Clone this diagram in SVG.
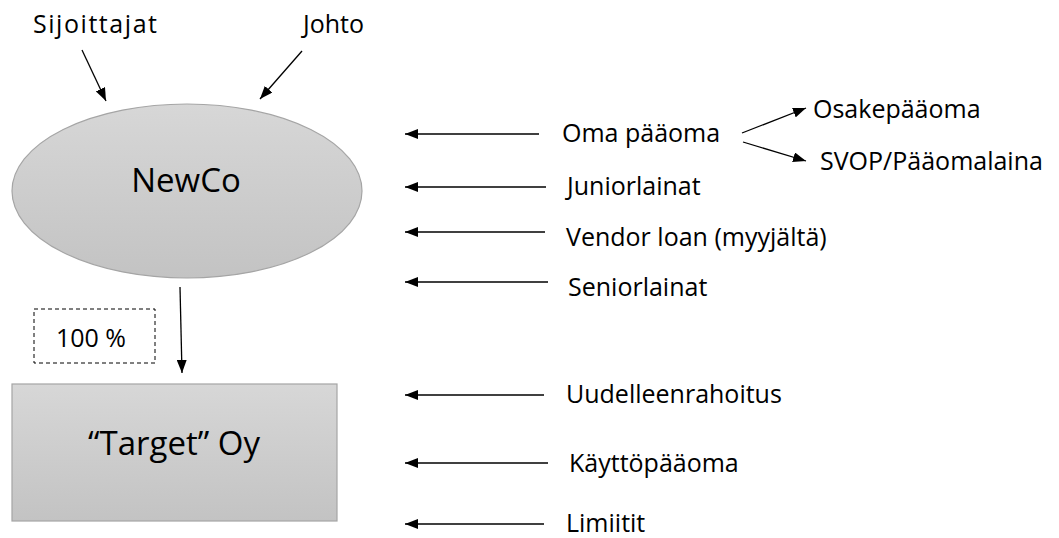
<svg xmlns="http://www.w3.org/2000/svg" width="1059" height="538" viewBox="0 0 1059 538">
<defs>
<linearGradient id="g" x1="0" y1="0" x2="0" y2="1">
<stop offset="0" stop-color="#d7d7d7"/>
<stop offset="1" stop-color="#c3c3c3"/>
</linearGradient>
<marker id="ah" viewBox="0 0 13 10" refX="13" refY="5" markerWidth="13" markerHeight="10" markerUnits="userSpaceOnUse" orient="auto">
<path d="M0,0 L13,5 L0,10 Z" fill="#000"/>
</marker>
</defs>
<style>
text{font-family:"Open Sans","Liberation Sans",sans-serif;fill:#000;}
.lbl{font-size:25px;}
.big{font-size:33px;}
.shape{fill:url(#g);stroke:#a5a5a5;stroke-width:1.2;}
.conn line{stroke:#000;stroke-width:1.3;marker-end:url(#ah);}
</style>
<g id="newco">
<ellipse class="shape" cx="187" cy="191" rx="175" ry="87"/>
<text class="big" x="186" y="192" text-anchor="middle">NewCo</text>
</g>
<g id="target">
<rect class="shape" x="12" y="384" width="325" height="137"/>
<text class="big" x="174" y="455" text-anchor="middle">“Target” Oy</text>
</g>
<g id="ownership">
<rect x="34" y="309" width="121" height="54" fill="none" stroke="#000" stroke-width="1" stroke-dasharray="4,3"/>
<text class="lbl" x="91" y="347" text-anchor="middle">100 %</text>
</g>
<g id="sijoittajat"><text class="lbl" x="33" y="33" textLength="124" lengthAdjust="spacing">Sijoittajat</text></g>
<g id="johto"><text class="lbl" x="303" y="33">Johto</text></g>
<g id="oma"><text class="lbl" x="562" y="142">Oma pääoma</text></g>
<g id="osake"><text class="lbl" x="813" y="118">Osakepääoma</text></g>
<g id="svop"><text class="lbl" x="820" y="170">SVOP/Pääomalaina</text></g>
<g id="junior"><text class="lbl" x="567" y="195">Juniorlainat</text></g>
<g id="vendor"><text class="lbl" x="566" y="246">Vendor loan (myyjältä)</text></g>
<g id="senior"><text class="lbl" x="568" y="296">Seniorlainat</text></g>
<g id="uudelleen"><text class="lbl" x="566" y="403">Uudelleenrahoitus</text></g>
<g id="kaytto"><text class="lbl" x="569" y="472">Käyttöpääoma</text></g>
<g id="limiitit"><text class="lbl" x="566" y="532">Limiitit</text></g>
<g id="connectors" class="conn">
<line x1="82" y1="50" x2="106" y2="101"/>
<line x1="302" y1="51" x2="260" y2="99"/>
<line x1="180" y1="287" x2="182" y2="373"/>
<line x1="539" y1="134" x2="405" y2="134"/>
<line x1="742" y1="133" x2="806" y2="108"/>
<line x1="743" y1="142" x2="806" y2="161"/>
<line x1="546" y1="187" x2="405" y2="187"/>
<line x1="545" y1="232" x2="405" y2="232"/>
<line x1="548" y1="282" x2="405" y2="282"/>
<line x1="544" y1="395" x2="405" y2="395"/>
<line x1="548" y1="463" x2="405" y2="463"/>
<line x1="544" y1="524" x2="405" y2="524"/>
</g>
</svg>
